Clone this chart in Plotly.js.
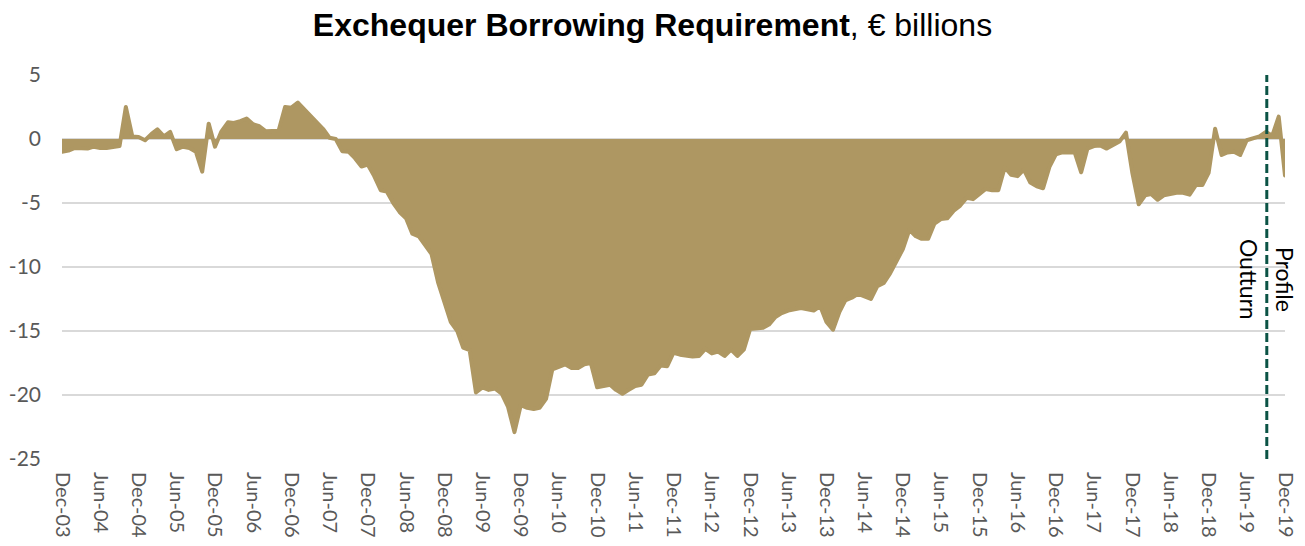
<!DOCTYPE html>
<html>
<head>
<meta charset="utf-8">
<script src="https://cdn.plot.ly/plotly-3.0.1.min.js"></script>
<style>
  html, body { margin: 0; padding: 0; background: #ffffff; }
  #chart { width: 1305px; height: 546px; }
  #chart path.js-line { stroke-linejoin: round; stroke-linecap: round; }
</style>
</head>
<body>
<div id="chart"></div>
<script>
// ---- Data (monthly, Dec-2003 .. Dec-2019), € billions ----
const startYear = 2003;
const startMonth = 12; // December
const borrowing = [
  -1.0, -0.9, -0.7, -0.7, -0.75, -0.6, -0.7, -0.7, -0.6, -0.55,   // Dec-03 .. Sep-04
  2.5, 0.2, 0.15, -0.1, 0.4, 0.75, 0.2, 0.55, -0.8, -0.6,          // Oct-04 .. Jul-05
  -0.7, -1.0, -2.55, 1.2, -0.6, 0.6, 1.3, 1.25, 1.4, 1.6,          // Aug-05 .. May-06
  1.15, 1.0, 0.6, 0.65, 0.65, 2.5, 2.45, 2.85, 2.3, 1.9,           // Jun-06 .. Mar-07
  1.3, 0.8, 0.1, 0.0, -0.95, -1.0, -1.5, -2.15, -2.0, -2.9,        // Apr-07 .. Jan-08
  -4.0, -4.1, -5.0, -5.7, -6.2, -7.4, -7.6, -8.3, -9.0, -11.2,     // Feb-08 .. Nov-08
  -12.8, -14.3, -15.0, -16.3, -16.5, -19.8, -19.4, -19.6, -19.5, -19.9, // Dec-08 .. Sep-09
  -20.9, -22.9, -20.8, -21.0, -21.1, -21.0, -20.3, -18.0, -17.8, -17.6, // Oct-09 .. Jul-10
  -17.9, -17.9, -17.6, -17.5, -19.4, -19.3, -19.2, -19.6, -19.9, -19.6, // Aug-10 .. May-11
  -19.3, -19.2, -18.4, -18.3, -17.7, -17.75, -16.7, -16.85, -16.95, -17.0, // Jun-11 .. Mar-12
  -16.95, -16.4, -16.75, -16.6, -16.95, -16.45, -16.95, -16.45, -14.85, -14.8, // Apr-12 .. Jan-13
  -14.75, -14.5, -13.9, -13.6, -13.4, -13.3, -13.2, -13.3, -13.4, -13.05, // Feb-13 .. Nov-13
  -14.3, -14.9, -13.5, -12.6, -12.4, -12.1, -12.3, -12.5, -11.5, -11.25, // Dec-13 .. Sep-14
  -10.5, -9.6, -8.6, -7.1, -7.6, -7.8, -7.8, -6.6, -6.25, -6.2,    // Oct-14 .. Jul-15
  -5.6, -5.2, -4.6, -4.7, -4.3, -3.9, -4.0, -4.0, -2.2, -2.8,      // Aug-15 .. May-16
  -2.9, -2.4, -3.4, -3.7, -3.85, -2.15, -1.2, -1.05, -1.05, -1.05, // Jun-16 .. Mar-17
  -2.6, -0.75, -0.55, -0.5, -0.75, -0.5, -0.2, 0.5, -2.6, -5.1,    // Apr-17 .. Jan-18
  -4.4, -4.3, -4.75, -4.4, -4.3, -4.2, -4.2, -4.35, -3.6, -3.6,    // Feb-18 .. Nov-18
  -2.65, 0.8, -1.25, -1.05, -1.0, -1.25, -0.1, 0.05, 0.2, 0.55,    // Dec-18 .. Sep-19
  0.25, 1.75, -2.85                                                // Oct-19 .. Dec-19
];
const tickLabels = ["Dec-03","Jun-04","Dec-04","Jun-05","Dec-05","Jun-06","Dec-06","Jun-07",
  "Dec-07","Jun-08","Dec-08","Jun-09","Dec-09","Jun-10","Dec-10","Jun-11","Dec-11","Jun-12",
  "Dec-12","Jun-13","Dec-13","Jun-14","Dec-14","Jun-15","Dec-15","Jun-16","Dec-16","Jun-17",
  "Dec-17","Jun-18","Dec-18","Jun-19","Dec-19"];
const yTicks = [5, 0, -5, -10, -15, -20, -25];
const splitDate = "2019-09-05";   // outturn / profile divider
const splitLabels = ["Outturn", "Profile"];
const titleBold = "Exchequer Borrowing Requirement";
const titleRest = ", € billions";

// ---- Build dates ----
function pad(n) { return (n < 10 ? "0" : "") + n; }
const months = borrowing.map((_, i) => {
  const total = (startMonth - 1) + i;
  const y = startYear + Math.floor(total / 12);
  const m = (total % 12) + 1;
  return y + "-" + pad(m) + "-01";
});
const monNames = {Jan:1,Feb:2,Mar:3,Apr:4,May:5,Jun:6,Jul:7,Aug:8,Sep:9,Oct:10,Nov:11,Dec:12};
const tickVals = tickLabels.map(l => {
  const [mn, yy] = l.split("-");
  return "20" + yy + "-" + pad(monNames[mn]) + "-01";
});

const gold = "#AE9762";

const trace = {
  x: months,
  y: borrowing,
  type: "scatter",
  mode: "lines",
  fill: "tozeroy",
  fillcolor: gold,
  line: { color: gold, width: 4, shape: "linear" },
  hoverinfo: "x+y"
};

const layout = {
  width: 1305,
  height: 546,
  margin: { l: 62, r: 20, t: 75, b: 87, pad: 0 },
  paper_bgcolor: "#ffffff",
  plot_bgcolor: "#ffffff",
  showlegend: false,
  title: {
    text: "<b>" + titleBold + "</b>" + titleRest,
    font: { family: "Liberation Sans, Arial, sans-serif", size: 32, color: "#000000" },
    x: 0.5, xref: "container", xanchor: "center",
    y: 0.955, yref: "container", yanchor: "middle"
  },
  xaxis: {
    type: "date",
    range: [months[0], months[months.length - 1]],
    tickmode: "array",
    tickvals: tickVals,
    ticktext: tickLabels,
    tickangle: 90,
    ticks: "",
    showgrid: false,
    zeroline: false,
    showline: false,
    ticklabelstandoff: 12,
    tickfont: { family: "Lato, sans-serif", size: 20, color: "#595959" },
    fixedrange: true
  },
  yaxis: {
    range: [-25, 5],
    tickmode: "array",
    tickvals: yTicks,
    ticktext: yTicks.map(String),
    ticks: "",
    showgrid: true,
    gridcolor: "#D9D9D9",
    gridwidth: 1.5,
    zeroline: false,
    showline: false,
    ticklabelstandoff: 20,
    tickfont: { family: "Lato, sans-serif", size: 21, color: "#595959" },
    fixedrange: true
  },
  shapes: [{
    type: "line",
    xref: "x", yref: "paper",
    x0: splitDate, x1: splitDate, y0: 0, y1: 1,
    line: { color: "#0B5345", width: 3, dash: "9px,4px" },
    layer: "above"
  }],
  annotations: [
    {
      text: splitLabels[0], xref: "x", yref: "paper", x: splitDate, y: 0.467,
      xshift: -17, textangle: 90, showarrow: false,
      font: { family: "Lato, sans-serif", size: 23, color: "#000000" }
    },
    {
      text: splitLabels[1], xref: "x", yref: "paper", x: splitDate, y: 0.467,
      xshift: 19, textangle: 90, showarrow: false,
      font: { family: "Lato, sans-serif", size: 23, color: "#000000" }
    }
  ]
};

Plotly.newPlot("chart", [trace], layout, { displayModeBar: false, staticPlot: true });
</script>
</body>
</html>
